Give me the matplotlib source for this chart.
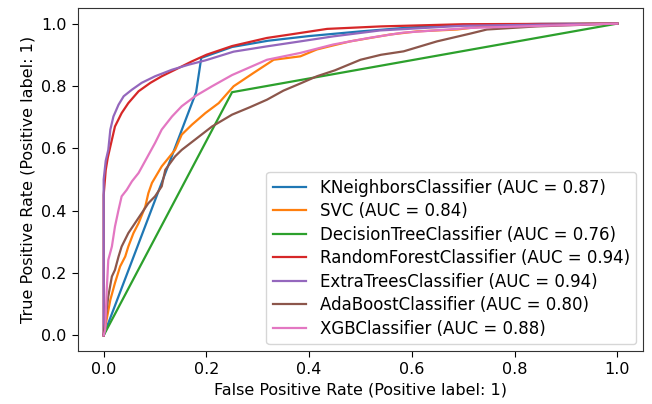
import matplotlib
matplotlib.use("Agg")
import matplotlib.pyplot as plt

# ROC curves (fpr, tpr)
knn_fpr = [0.0, 0.18, 0.19, 0.25, 0.32, 0.40, 0.50, 0.60, 0.70, 0.85, 1.0]
knn_tpr = [0.0, 0.78, 0.89, 0.925, 0.945, 0.96, 0.975, 0.988, 0.995, 0.999, 1.0]

svc_fpr = [0.0, 0.013, 0.022, 0.032, 0.042, 0.048, 0.058, 0.068, 0.081, 0.087, 0.094, 0.113,
           0.139, 0.152, 0.172, 0.198, 0.224, 0.253, 0.292, 0.331, 0.383, 0.415, 0.447, 0.48,
           0.558, 0.61, 0.688, 0.739, 0.85, 1.0]
svc_tpr = [0.0, 0.114, 0.168, 0.221, 0.253, 0.285, 0.328, 0.36, 0.413, 0.456, 0.489, 0.542,
           0.595, 0.644, 0.676, 0.713, 0.745, 0.799, 0.842, 0.884, 0.895, 0.917, 0.93, 0.943,
           0.965, 0.975, 0.981, 0.991, 0.997, 1.0]

dt_fpr = [0.0, 0.25, 1.0]
dt_tpr = [0.0, 0.78, 1.0]

rf_fpr = [0.0, 0.0, 0.004, 0.008, 0.013, 0.022, 0.035, 0.048, 0.068, 0.091, 0.113, 0.139,
          0.172, 0.2, 0.25, 0.318, 0.363, 0.435, 0.54, 0.7, 1.0]
rf_tpr = [0.0, 0.45, 0.53, 0.57, 0.606, 0.67, 0.713, 0.745, 0.783, 0.81, 0.831, 0.852,
          0.879, 0.9, 0.928, 0.954, 0.965, 0.983, 0.991, 0.998, 1.0]

et_fpr = [0.0, 0.0, 0.004, 0.009, 0.013, 0.019, 0.029, 0.039, 0.055, 0.074, 0.1, 0.133,
          0.165, 0.198, 0.253, 0.318, 0.383, 0.447, 0.538, 0.7, 1.0]
et_tpr = [0.0, 0.5, 0.56, 0.595, 0.66, 0.702, 0.74, 0.767, 0.788, 0.81, 0.831, 0.852,
          0.868, 0.882, 0.91, 0.927, 0.943, 0.959, 0.978, 0.993, 1.0]

ada_fpr = [0.0, 0.009, 0.016, 0.022, 0.029, 0.035, 0.048, 0.061, 0.074, 0.087, 0.1, 0.113,
           0.12, 0.139, 0.152, 0.178, 0.211, 0.25, 0.285, 0.318, 0.35, 0.383, 0.415, 0.45,
           0.5, 0.54, 0.584, 0.649, 0.714, 0.746, 0.843, 1.0]
ada_tpr = [0.0, 0.125, 0.189, 0.21, 0.253, 0.285, 0.328, 0.36, 0.392, 0.424, 0.446, 0.478,
           0.531, 0.574, 0.595, 0.628, 0.67, 0.708, 0.732, 0.756, 0.785, 0.808, 0.831, 0.85,
           0.884, 0.9, 0.911, 0.943, 0.968, 0.981, 0.991, 1.0]

xgb_fpr = [0.0, 0.003, 0.006, 0.009, 0.016, 0.022, 0.029, 0.035, 0.045, 0.055, 0.068, 0.081,
           0.1, 0.113, 0.133, 0.152, 0.178, 0.211, 0.25, 0.318, 0.383, 0.447, 0.52, 0.583,
           0.713, 1.0]
xgb_tpr = [0.0, 0.018, 0.146, 0.242, 0.285, 0.349, 0.403, 0.446, 0.467, 0.494, 0.521, 0.56,
           0.617, 0.66, 0.702, 0.735, 0.767, 0.799, 0.835, 0.884, 0.906, 0.933, 0.955, 0.971,
           0.986, 1.0]

names = ["KNeighborsClassifier", "SVC", "DecisionTreeClassifier", "RandomForestClassifier",
         "ExtraTreesClassifier", "AdaBoostClassifier", "XGBClassifier"]
aucs = [0.87, 0.84, 0.76, 0.94, 0.94, 0.80, 0.88]
curves = [(knn_fpr, knn_tpr), (svc_fpr, svc_tpr), (dt_fpr, dt_tpr), (rf_fpr, rf_tpr),
          (et_fpr, et_tpr), (ada_fpr, ada_tpr), (xgb_fpr, xgb_tpr)]

plt.rcParams["font.size"] = 11.5
plt.rcParams["xtick.major.size"] = 4.5
plt.rcParams["ytick.major.size"] = 4.5

fig = plt.figure(figsize=(6.52, 4.04), dpi=100)
ax = fig.add_axes([0.1196, 0.1312, 0.8666, 0.849])

for name, auc, (fpr, tpr) in zip(names, aucs, curves):
    ax.plot(fpr, tpr, lw=1.6, label=f"{name} (AUC = {auc:.2f})")

for sp in ax.spines.values():
    sp.set_color("#333333")

ax.set_xlabel("False Positive Rate (Positive label: 1)")
ax.set_ylabel("True Positive Rate (Positive label: 1)")
ax.legend(loc="lower right", fontsize=12, labelspacing=0.33, borderaxespad=0.4)

fig.savefig("out.png", dpi=100)
